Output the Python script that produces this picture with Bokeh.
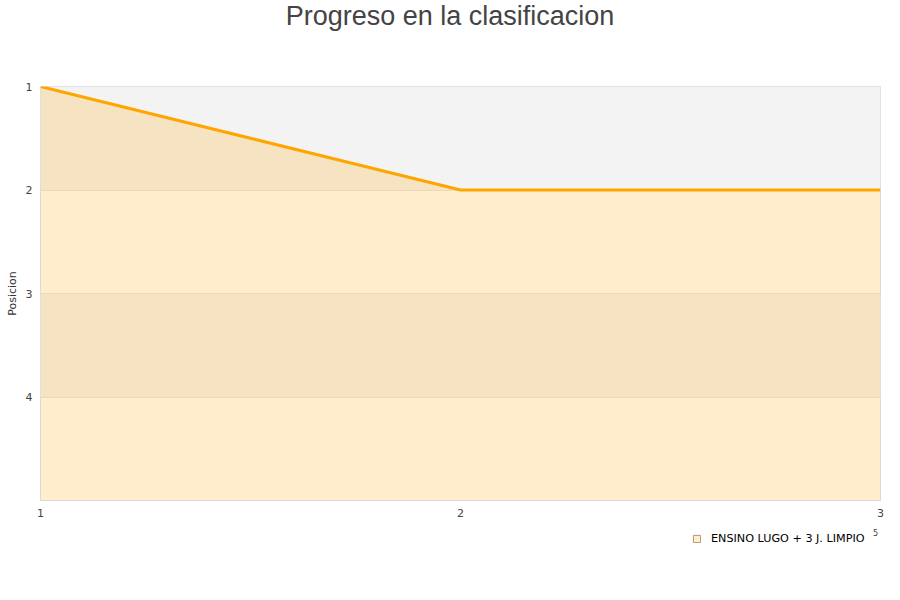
from bokeh.plotting import figure
from bokeh.layouts import column
from bokeh.models import Range1d, FixedTicker, Legend, LegendItem, Label
from bokeh.embed import file_html
from bokeh.resources import INLINE

jornadas = [1, 2, 3]
posiciones = [1, 2, 2]
team = "ENSINO LUGO + 3 J. LIMPIO"
chart_title = "Progreso en la clasificacion"
y_ticks = [1, 2, 3, 4]
band_bottoms = [1, 3]
band_tops = [2, 4]
n_teams = 5

W = 892
FL, FR = 40, 880  # frame edges in page pixels (strips share the main frame)

# ---- title strip ----
tf = figure(width=W, height=80, output_backend="svg", toolbar_location=None,
            x_range=Range1d(FL, FR), y_range=Range1d(0, 80),
            x_axis_type=None, y_axis_type=None,
            min_border=0, outline_line_color=None)
tf.grid.visible = False
tf.add_layout(Label(x=449.5, y=65, text=chart_title, text_font="Liberation Sans",
                    text_font_size="27px", text_color="#444444",
                    text_align="center", text_baseline="middle"))

# ---- main chart ----
p = figure(frame_width=840, frame_height=414, output_backend="svg", toolbar_location=None,
           x_range=Range1d(1, 3), y_range=Range1d(n_teams, 1),
           min_border_left=40, min_border_right=12, min_border_top=6, min_border_bottom=24)

p.background_fill_color = "white"
p.outline_line_color = "#dddddd"
p.xgrid.grid_line_color = None
p.ygrid.grid_line_color = "#e6e6e6"
p.ygrid.ticker = FixedTicker(ticks=[2, 3, 4])

p.quad(left=1, right=3, bottom=band_bottoms, top=band_tops, fill_color="#f3f3f3",
       line_color=None, level="underlay")
p.varea(x=jornadas, y1=posiciones, y2=[n_teams] * len(jornadas), fill_color="#ffa500", fill_alpha=0.2)
p.line(x=jornadas, y=posiciones, line_color="#ffa500", line_width=3)

for ax in (p.xaxis, p.yaxis):
    ax.axis_line_color = None
    ax.major_tick_line_color = None
    ax.minor_tick_line_color = None
    ax.major_tick_out = 0
    ax.major_tick_in = 0
    ax.major_label_text_font = "DejaVu Sans"
    ax.major_label_text_font_size = "11px"
    ax.major_label_text_color = "#444444"
    ax.major_label_standoff = 8

p.xaxis.ticker = FixedTicker(ticks=jornadas)
p.yaxis.ticker = FixedTicker(ticks=y_ticks)
p.yaxis.axis_label = "Posicion"
p.yaxis.axis_label_text_font = "DejaVu Sans"
p.yaxis.axis_label_text_font_size = "11px"
p.yaxis.axis_label_text_font_style = "normal"
p.yaxis.axis_label_text_color = "#333333"
p.yaxis.axis_label_standoff = 4

# ---- legend strip ----
lf = figure(width=W, height=60, output_backend="svg", toolbar_location=None,
            x_range=Range1d(FL, FR), y_range=Range1d(0, 60),
            x_axis_type=None, y_axis_type=None,
            min_border=0, outline_line_color=None)
lf.grid.visible = False
# off-screen proxy so the legend has a swatch to draw
swatch = lf.quad(left=[0], right=[1], bottom=[-10], top=[-9],
                 fill_color="#ffedcc", line_color="#b09a70", line_width=1)
legend = Legend(items=[LegendItem(label=team, renderers=[swatch])], location=(652, 39),
                label_text_font="DejaVu Sans", label_text_font_size="11.2px", label_text_color="#000000",
                glyph_width=9, glyph_height=9, background_fill_alpha=0, border_line_color=None,
                padding=2, margin=0, label_standoff=10, label_height=13)
lf.add_layout(legend, "center")
lf.add_layout(Label(x=875, y=52, text="5", text_font="DejaVu Sans", text_font_size="8px",
                    text_color="#444444", text_align="center", text_baseline="middle"))

layout = column(tf, p, lf, spacing=0)
open("out.html", "w").write(file_html(layout, INLINE))
